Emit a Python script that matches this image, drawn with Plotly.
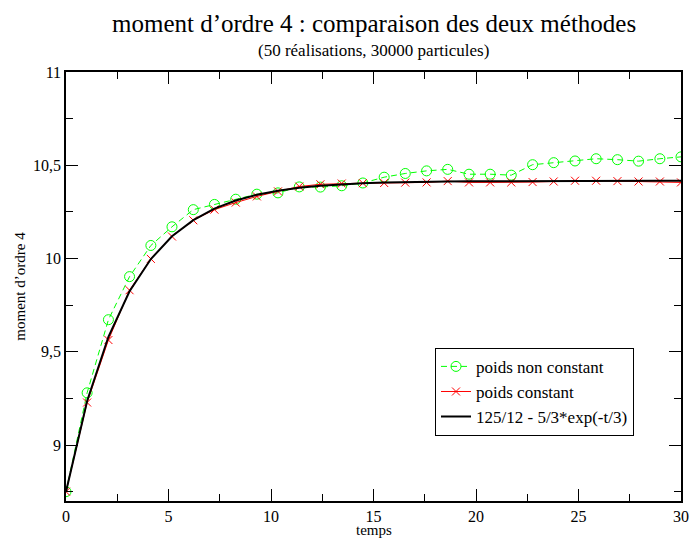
import plotly.graph_objects as go

# time samples (30 points from 0 to 30)
t = [0.00, 1.03, 2.07, 3.10, 4.14, 5.17, 6.21, 7.24, 8.28, 9.31,
     10.34, 11.38, 12.41, 13.45, 14.48, 15.52, 16.55, 17.59, 18.62, 19.66,
     20.69, 21.72, 22.76, 23.79, 24.83, 25.86, 26.90, 27.93, 28.97, 30.00]

poids_non_constant = [8.750, 9.280, 9.672, 9.903, 10.070, 10.170, 10.262, 10.290, 10.318, 10.345,
                      10.352, 10.384, 10.383, 10.390, 10.405, 10.436, 10.456, 10.470, 10.478, 10.452,
                      10.452, 10.447, 10.503, 10.514, 10.523, 10.535, 10.530, 10.522, 10.535, 10.545]

poids_constant = [8.750, 9.228, 9.563, 9.830, 9.998, 10.118, 10.205, 10.262, 10.300, 10.333,
                  10.360, 10.386, 10.398, 10.402, 10.404, 10.405, 10.407, 10.408, 10.415, 10.408,
                  10.408, 10.408, 10.410, 10.413, 10.417, 10.417, 10.415, 10.413, 10.413, 10.408]

theorie = [8.7500, 9.2361, 9.5804, 9.8243, 9.9971, 10.1195, 10.2061, 10.2675, 10.3110, 10.3418,
           10.3637, 10.3791, 10.3901, 10.3978, 10.4033, 10.4072, 10.4100, 10.4119, 10.4133, 10.4143,
           10.4150, 10.4155, 10.4158, 10.4161, 10.4162, 10.4164, 10.4165, 10.4165, 10.4166, 10.4166]

x_ticks = [0, 5, 10, 15, 20, 25, 30]
x_labels = ["0", "5", "10", "15", "20", "25", "30"]
y_ticks = [9, 9.5, 10, 10.5, 11]
y_labels = ["9", "9,5", "10", "10,5", "11"]

FONT = "Liberation Serif"

fig = go.Figure()
fig.add_trace(go.Scatter(
    x=t, y=poids_non_constant, name="poids non constant", mode="lines+markers",
    line=dict(color="#00ff00", width=1, dash="6px,4px"),
    marker=dict(symbol="circle-open", size=10, color="#00ff00", line=dict(width=1, color="#00ff00")),
))
fig.add_trace(go.Scatter(
    x=t, y=poids_constant, name="poids constant", mode="lines+markers",
    line=dict(color="#ff0000", width=1),
    marker=dict(symbol="x-thin-open", size=8, color="#ff0000", line=dict(width=1, color="#ff0000")),
))
fig.add_trace(go.Scatter(
    x=t, y=theorie, name="125/12 - 5/3*exp(-t/3)", mode="lines",
    line=dict(color="#000000", width=2),
))

axis_common = dict(
    showline=True, linecolor="black", linewidth=1.5, mirror="ticks",
    ticks="inside", ticklen=12, tickwidth=1, tickcolor="black",
    showgrid=False, zeroline=False, automargin=False,
    tickfont=dict(family=FONT, size=16, color="black"),
)

fig.update_layout(
    width=690, height=540,
    margin=dict(l=66, r=9, t=72, b=39),
    paper_bgcolor="white", plot_bgcolor="white",
    font=dict(family=FONT, color="black"),
    showlegend=True,
    legend=dict(
        x=0.6, y=0.357, xanchor="left", yanchor="top",
        bgcolor="white", bordercolor="black", borderwidth=1,
        font=dict(family=FONT, size=17, color="black"),
        tracegroupgap=0, itemwidth=30,
    ),
    xaxis=dict(
        range=[0, 30], tickmode="array", tickvals=x_ticks, ticktext=x_labels,
        minor=dict(ticks="inside", ticklen=7, dtick=2.5, tick0=0, tickcolor="black", tickwidth=1),
        **axis_common,
    ),
    yaxis=dict(
        range=[8.7, 11], tickmode="array", tickvals=y_ticks, ticktext=y_labels,
        minor=dict(ticks="inside", ticklen=7, dtick=0.25, tick0=0, tickcolor="black", tickwidth=1),
        title=dict(text="moment d’ordre 4", font=dict(family=FONT, size=15), standoff=4),
        **axis_common,
    ),
    annotations=[
        dict(text="moment d’ordre 4 : comparaison des deux méthodes", x=0.5, y=1,
             xref="paper", yref="paper", showarrow=False, yanchor="middle", yshift=49,
             font=dict(family=FONT, size=25, color="black")),
        dict(text="(50 réalisations, 30000 particules)", x=0.5, y=1,
             xref="paper", yref="paper", showarrow=False, yanchor="middle", yshift=22,
             font=dict(family=FONT, size=17, color="black")),
        dict(text="temps", x=0.5, y=0, xref="paper", yref="paper", showarrow=False,
             yanchor="bottom", yshift=-39,
             font=dict(family=FONT, size=15, color="black")),
    ],
)

fig.write_html("out.html", config={"displayModeBar": False},
               post_script="document.body.style.margin='0px';")
